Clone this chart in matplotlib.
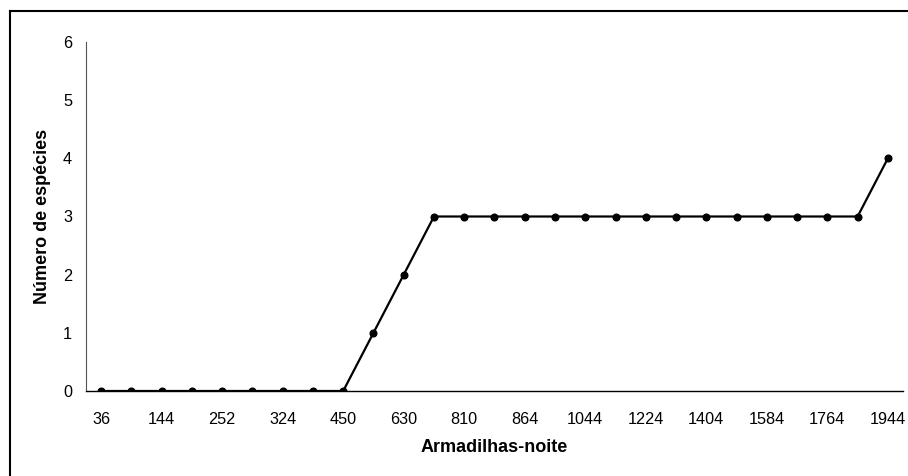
import matplotlib
matplotlib.use('Agg')
import matplotlib.pyplot as plt
from matplotlib.lines import Line2D

plt.rcParams['font.family'] = ['Liberation Sans', 'DejaVu Sans']

# 27 sampling steps (every other one labelled on the axis)
tick_labels = ['36', '144', '252', '324', '450', '630', '810', '864',
               '1044', '1224', '1404', '1584', '1764', '1944']
especies = [0, 0, 0, 0, 0, 0, 0, 0, 0, 1, 2, 3, 3, 3, 3, 3, 3, 3, 3, 3,
            3, 3, 3, 3, 3, 3, 4]

fig = plt.figure(figsize=(9.08, 4.76), dpi=100)
ax = fig.add_axes([86 / 908, 1 - 391 / 476, 817 / 908, 349 / 476])

x = list(range(len(especies)))
ax.plot(x, especies, color='black', lw=1.6, marker='o', markersize=4.8)

ax.set_xlim(-0.5, len(especies) - 0.5)
ax.set_ylim(0, 6)
ax.set_xticks(x[::2])
ax.set_xticklabels(tick_labels)
ax.set_yticks(range(7))
ax.tick_params(axis='both', length=0, labelsize=11.7)
ax.tick_params(axis='x', pad=15)
ax.tick_params(axis='y', pad=10)
for s in ['top', 'right']:
    ax.spines[s].set_visible(False)
ax.spines['left'].set_color('#555555')
ax.spines['left'].set_linewidth(0.8)
ax.spines['bottom'].set_linewidth(1.0)

ax.set_xlabel('Armadilhas-noite', fontsize=13, fontweight='bold', va='center')
ax.set_ylabel('Número de espécies', fontsize=13, fontweight='bold', va='center')
ax.xaxis.set_label_coords(494.5 / 908, 1 - 448 / 476, transform=fig.transFigure)
ax.yaxis.set_label_coords(43 / 908, 1 - 216 / 476, transform=fig.transFigure)

# outer chart frame (left and top edges visible)
fig.add_artist(Line2D([9.5 / 908, 9.5 / 908], [0, 1 - 10.5 / 476], color='black',
                      lw=1.5, transform=fig.transFigure))
fig.add_artist(Line2D([9.5 / 908, 1], [1 - 10.5 / 476, 1 - 10.5 / 476], color='black',
                      lw=1.5, transform=fig.transFigure))

fig.savefig('out.png', dpi=100)
